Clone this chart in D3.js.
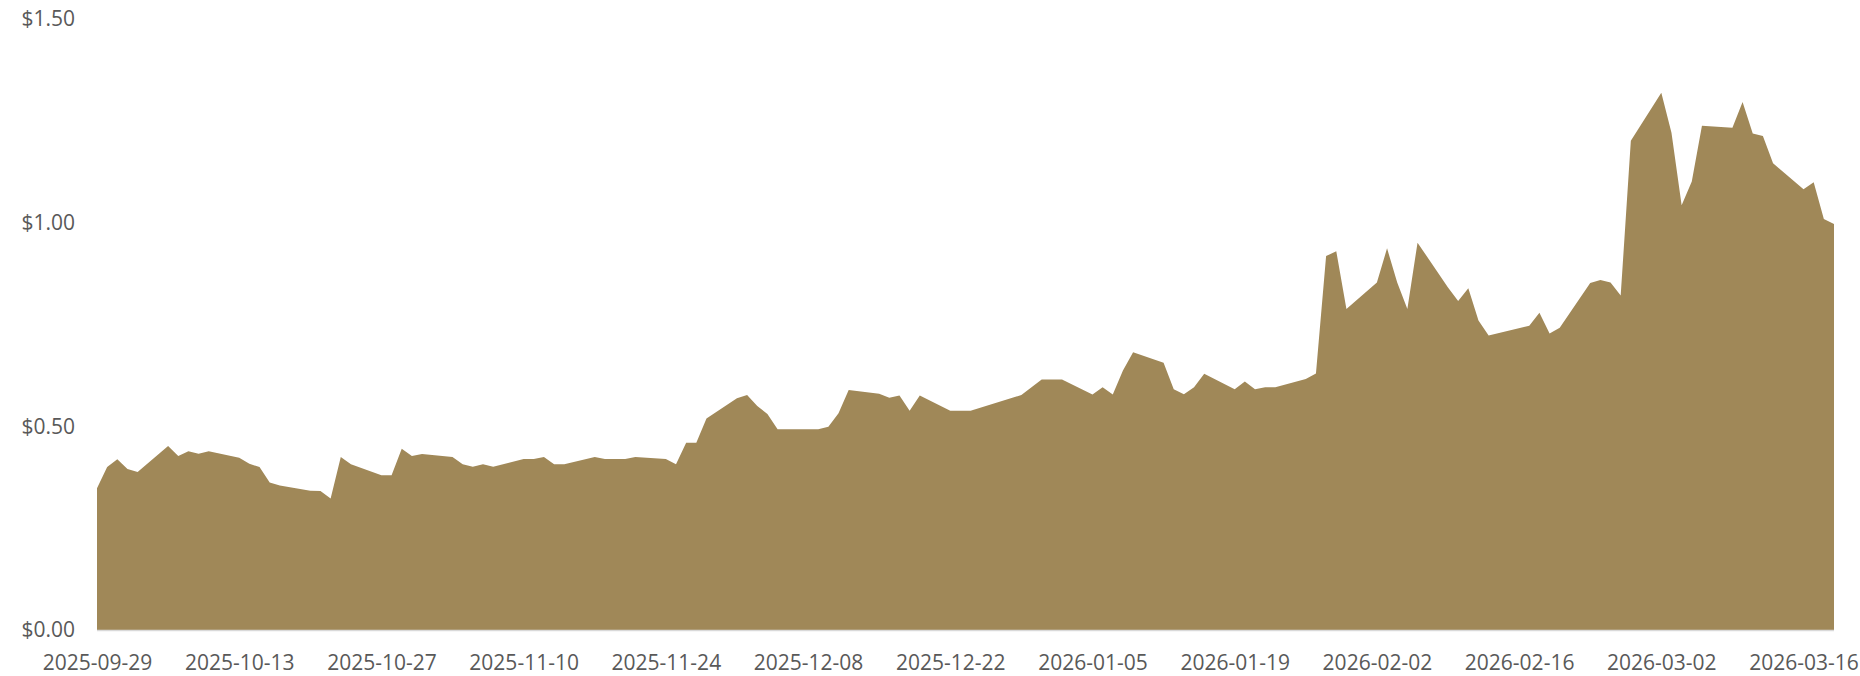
<!DOCTYPE html>
<html>
<head>
<meta charset="utf-8">
<script src="https://cdnjs.cloudflare.com/ajax/libs/d3/7.8.5/d3.min.js"></script>
<style>
  body { margin: 0; background: #fff; }
  svg text { font-family: "Open Sans", sans-serif; fill: #595959; }
</style>
</head>
<body>
<svg id="chart" width="1860" height="676"></svg>
<script>
// trading days and closing values
const dates = [
  "2025-09-29","2025-09-30","2025-10-01","2025-10-02","2025-10-03",
  "2025-10-06","2025-10-07","2025-10-08","2025-10-09","2025-10-10",
  "2025-10-13","2025-10-14","2025-10-15","2025-10-16","2025-10-17",
  "2025-10-20","2025-10-21","2025-10-22","2025-10-23","2025-10-24",
  "2025-10-27","2025-10-28","2025-10-29","2025-10-30","2025-10-31",
  "2025-11-03","2025-11-04","2025-11-05","2025-11-06","2025-11-07",
  "2025-11-10","2025-11-11","2025-11-12","2025-11-13","2025-11-14",
  "2025-11-17","2025-11-18","2025-11-19","2025-11-20","2025-11-21",
  "2025-11-24","2025-11-25","2025-11-26","2025-11-27","2025-11-28",
  "2025-12-01","2025-12-02","2025-12-03","2025-12-04","2025-12-05",
  "2025-12-08","2025-12-09","2025-12-10","2025-12-11","2025-12-12",
  "2025-12-15","2025-12-16","2025-12-17","2025-12-18","2025-12-19",
  "2025-12-22","2025-12-23","2025-12-24","2025-12-29","2025-12-30",
  "2025-12-31","2026-01-02",
  "2026-01-05","2026-01-06","2026-01-07","2026-01-08","2026-01-09",
  "2026-01-12","2026-01-13","2026-01-14","2026-01-15","2026-01-16",
  "2026-01-19","2026-01-20","2026-01-21","2026-01-22","2026-01-23",
  "2026-01-26","2026-01-27","2026-01-28","2026-01-29","2026-01-30",
  "2026-02-02","2026-02-03","2026-02-04","2026-02-05","2026-02-06",
  "2026-02-09","2026-02-10","2026-02-11","2026-02-12","2026-02-13",
  "2026-02-17","2026-02-18","2026-02-19","2026-02-20",
  "2026-02-23","2026-02-24","2026-02-25","2026-02-26","2026-02-27",
  "2026-03-02","2026-03-03","2026-03-04","2026-03-05","2026-03-06",
  "2026-03-09","2026-03-10","2026-03-11","2026-03-12","2026-03-13",
  "2026-03-16","2026-03-17","2026-03-18","2026-03-19"
];

const prices = [
  0.348, 0.400, 0.419, 0.395, 0.388,
  0.452, 0.427, 0.439, 0.433, 0.439,
  0.423, 0.408, 0.400, 0.362, 0.355,
  0.342, 0.341, 0.323, 0.425, 0.407,
  0.380, 0.380, 0.445, 0.427, 0.432,
  0.425, 0.407, 0.401, 0.407, 0.401,
  0.420, 0.420, 0.425, 0.407, 0.407,
  0.425, 0.420, 0.420, 0.420, 0.425,
  0.420, 0.407, 0.460, 0.460, 0.519,
  0.569, 0.577, 0.550, 0.530, 0.493,
  0.493, 0.493, 0.499, 0.532, 0.589,
  0.580, 0.570, 0.576, 0.538, 0.576,
  0.538, 0.538, 0.538, 0.577, 0.596,
  0.615, 0.615,
  0.578, 0.596, 0.578, 0.637, 0.682,
  0.656, 0.591, 0.579, 0.596, 0.629,
  0.591, 0.610, 0.591, 0.596, 0.596,
  0.616, 0.630, 0.918, 0.930, 0.788,
  0.853, 0.937, 0.853, 0.788, 0.951,
  0.841, 0.808, 0.839, 0.760, 0.723,
  0.747, 0.779, 0.728, 0.742,
  0.852, 0.859, 0.853, 0.821, 1.201,
  1.319, 1.221, 1.043, 1.101, 1.238,
  1.233, 1.296, 1.219, 1.213, 1.146,
  1.082, 1.099, 1.009, 0.997
];

const xTickLabels = [
  "2025-09-29","2025-10-13","2025-10-27","2025-11-10","2025-11-24",
  "2025-12-08","2025-12-22","2026-01-05","2026-01-19","2026-02-02",
  "2026-02-16","2026-03-02","2026-03-16"
];
const yTicks = [0, 0.5, 1.0, 1.5];

const parse = d3.timeParse("%Y-%m-%d");
const data = dates.map((d, i) => ({ date: parse(d), value: prices[i] }));

const plotLeft = 97, plotRight = 1834, plotTop = 19, plotBottom = 630;
const svg = d3.select("#chart");

const x = d3.scaleTime()
    .domain(d3.extent(data, d => d.date))
    .range([plotLeft, plotRight]);

const y = d3.scaleLinear()
    .domain([0, 1.5])
    .range([plotBottom, plotTop]);

// the filled area
const area = d3.area()
    .x(d => x(d.date))
    .y0(y(0))
    .y1(d => y(d.value));

svg.append("path")
    .datum(data)
    .attr("fill", "#a08858")
    .attr("d", area);

// baseline
svg.append("line")
    .attr("x1", plotLeft).attr("x2", plotRight)
    .attr("y1", plotBottom + 0.5).attr("y2", plotBottom + 0.5)
    .attr("stroke", "#d9d9d9")
    .attr("stroke-width", 1.3);

// x axis
const xAxis = svg.append("g")
    .attr("transform", "translate(0," + plotBottom + ")")
    .call(d3.axisBottom(x)
        .tickValues(xTickLabels.map(parse))
        .tickFormat(d3.timeFormat("%Y-%m-%d"))
        .tickSize(0));
xAxis.select(".domain").remove();
xAxis.selectAll("text")
    .style("font-size", "21px")
    .attr("dy", "0.35em")
    .attr("y", 33);

// y axis
const yAxis = svg.append("g")
    .attr("transform", "translate(75,0)")
    .call(d3.axisLeft(y)
        .tickValues(yTicks)
        .tickFormat(d3.format("$.2f"))
        .tickSize(0)
        .tickPadding(0));
yAxis.select(".domain").remove();
yAxis.selectAll("text")
    .style("font-size", "21px");
</script>
</body>
</html>
